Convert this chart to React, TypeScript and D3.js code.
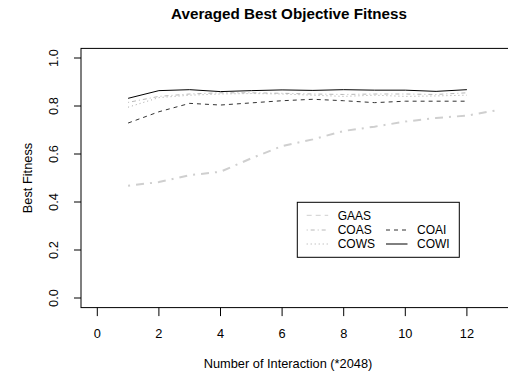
import React from "react";
import * as d3 from "d3";

const iterations = [1, 2, 3, 4, 5, 6, 7, 8, 9, 10, 11, 12];
const gaasIterations = [1, 2, 3, 4, 5, 6, 7, 8, 9, 10, 11, 12, 13];
const gaas = [0.468, 0.483, 0.512, 0.526, 0.582, 0.633, 0.661, 0.696, 0.714, 0.735, 0.75, 0.76, 0.783];
const coas = [0.815, 0.84, 0.85, 0.855, 0.855, 0.853, 0.85, 0.848, 0.85, 0.85, 0.848, 0.855];
const cows = [0.795, 0.835, 0.845, 0.85, 0.852, 0.85, 0.845, 0.84, 0.845, 0.84, 0.842, 0.845];
const coai = [0.729, 0.776, 0.811, 0.804, 0.813, 0.822, 0.828, 0.822, 0.814, 0.82, 0.82, 0.82];
const cowi = [0.832, 0.864, 0.868, 0.86, 0.864, 0.867, 0.865, 0.868, 0.866, 0.866, 0.861, 0.868];
const xTicks = [0, 2, 4, 6, 8, 10, 12];
const yTicks = [0, 0.2, 0.4, 0.6, 0.8, 1.0];

const FONT = "'Liberation Sans', Arial, Helvetica, sans-serif";

export default function App() {
  const W = 508, H = 381;
  const left = 81, top = 48.4, bottom = 307.6;
  const x = d3.scaleLinear().domain([0, 13]).range([97.3, 97.3 + 13 * 30.8]);
  const y = d3.scaleLinear().domain([0, 1]).range([298, 58]);
  const right = x(13.52);

  const line = d3.line<[number, number]>().x(d => x(d[0])).y(d => y(d[1]));
  const pts = (xs: number[], ys: number[]) => xs.map((v, i) => [v, ys[i]] as [number, number]);

  const series = [
    { name: "GAAS", d: pts(gaasIterations, gaas), stroke: "#cfcfcf", w: 2, dash: "2,6,8,6" },
    { name: "COAS", d: pts(iterations, coas), stroke: "#b8b8b8", w: 1, dash: "1,3,4,3" },
    { name: "COWS", d: pts(iterations, cows), stroke: "#a8a8a8", w: 1, dash: "1,3" },
    { name: "COAI", d: pts(iterations, coai), stroke: "#333333", w: 1, dash: "4,4" },
    { name: "COWI", d: pts(iterations, cowi), stroke: "#000000", w: 1, dash: "" },
  ];

  const legend = [
    { name: "GAAS", col: 0, row: 0, stroke: "#cfcfcf", dash: "5,4" },
    { name: "COAS", col: 0, row: 1, stroke: "#b8b8b8", dash: "1,3,4,3" },
    { name: "COWS", col: 0, row: 2, stroke: "#a8a8a8", dash: "1,3" },
    { name: "COAI", col: 1, row: 1, stroke: "#333333", dash: "4,4" },
    { name: "COWI", col: 1, row: 2, stroke: "#000000", dash: "" },
  ];
  const legX = [306.7, 386];
  const legY = [215.3, 230, 244];

  return (
    <svg width={W} height={H} style={{ display: "block", position: "absolute", left: 0, top: 0 }} fontFamily={FONT}>
      <rect x={0} y={0} width={W} height={H} fill="#fff" />
      <text x={289} y={18.8} textAnchor="middle" fontWeight="bold" fontSize={15.2}>
        Averaged Best Objective Fitness
      </text>
      {series.map(s => (
        <path key={s.name} d={line(s.d) || ""} fill="none" stroke={s.stroke} strokeWidth={s.w}
          strokeDasharray={s.dash || undefined} />
      ))}
      <rect x={left} y={top} width={right - left} height={bottom - top} fill="none" stroke="#000" strokeWidth={1} />
      {xTicks.map(t => (
        <g key={t}>
          <line x1={x(t)} x2={x(t)} y1={bottom} y2={bottom + 8.5} stroke="#000" />
          <text x={x(t)} y={337.8} textAnchor="middle" fontSize={12.8}>{t}</text>
        </g>
      ))}
      {yTicks.map(t => (
        <g key={t}>
          <line x1={left} x2={left - 7} y1={y(t)} y2={y(t)} stroke="#000" />
          <text transform={`translate(${57.8},${y(t)}) rotate(-90)`} textAnchor="middle" fontSize={12.8}>{t.toFixed(1)}</text>
        </g>
      ))}
      <text x={288} y={367.8} textAnchor="middle" fontSize={12.8}>Number of Interaction (*2048)</text>
      <text transform={`translate(${31.8},${(top + bottom) / 2}) rotate(-90)`} textAnchor="middle" fontSize={12.8}>Best Fitness</text>
      <rect x={297.3} y={202.3} width={162} height={55} fill="#fff" stroke="#000" strokeWidth={1} />
      {legend.map(l => (
        <g key={l.name}>
          <line x1={legX[l.col]} x2={legX[l.col] + 21.5} y1={legY[l.row]} y2={legY[l.row]} stroke={l.stroke}
            strokeDasharray={l.dash || undefined} />
          <text x={legX[l.col] + 31} y={legY[l.row] + 4.2} fontSize={12}>{l.name}</text>
        </g>
      ))}
    </svg>
  );
}
